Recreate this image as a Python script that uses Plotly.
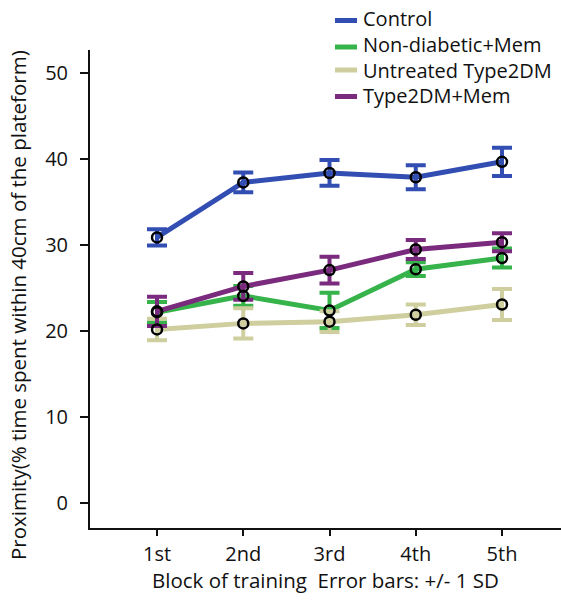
import plotly.graph_objects as go

blocks = ["1st", "2nd", "3rd", "4th", "5th"]

control = [30.9, 37.3, 38.4, 37.9, 39.7]
control_sd = [0.95, 1.15, 1.5, 1.4, 1.65]

nondiab_mem = [22.2, 24.1, 22.4, 27.2, 28.5]
nondiab_mem_sd = [1.2, 1.15, 2.05, 0.8, 1.1]

untreated = [20.2, 20.9, 21.1, 21.9, 23.1]
untreated_sd = [1.25, 1.75, 1.2, 1.2, 1.8]

t2dm_mem = [22.3, 25.2, 27.1, 29.5, 30.35]
t2dm_mem_sd = [1.7, 1.55, 1.55, 1.1, 1.05]

series = [
    ("Control", control, control_sd, "#334EB2"),
    ("Non-diabetic+Mem", nondiab_mem, nondiab_mem_sd, "#36B34A"),
    ("Untreated Type2DM", untreated, untreated_sd, "#CFCE9E"),
    ("Type2DM+Mem", t2dm_mem, t2dm_mem_sd, "#7A2B7E"),
]

FONT = "Open Sans, Noto Sans, sans-serif"

W, H = 561, 600
ML, MR, MT, MB = 90, 0, 50, 72
PW, PH = W - ML - MR, H - MT - MB


def px_x(p):
    return (p - ML) / PW


def px_y(p):
    return (H - MB - p) / PH


fig = go.Figure()
for name, vals, sd, col in series:
    fig.add_trace(go.Scatter(
        x=blocks, y=vals, name=name, mode="lines", showlegend=False,
        line=dict(color=col, width=5),
        error_y=dict(type="data", array=sd, visible=True, color=col,
                     thickness=4, width=10),
    ))
for name, vals, sd, col in series:
    fig.add_trace(go.Scatter(
        x=blocks, y=vals, mode="markers", showlegend=False, hoverinfo="skip",
        marker=dict(symbol="circle-open", size=10, color="black",
                    line=dict(color="black", width=2.5)),
    ))

# manual legend (layout decoration)
legend_line_y = [20.5, 47, 70, 96.5]
legend_text_y = [18.5, 45, 71, 96]
shapes = []
annotations = []
for (name, vals, sd, col), ly, ty in zip(series, legend_line_y, legend_text_y):
    shapes.append(dict(type="line", xref="paper", yref="paper",
                       x0=px_x(335), x1=px_x(357), y0=px_y(ly), y1=px_y(ly),
                       line=dict(color=col, width=5)))
    annotations.append(dict(text=name, xref="paper", yref="paper",
                            x=px_x(361), y=px_y(ty), xanchor="left",
                            yanchor="middle", showarrow=False,
                            font=dict(size=20, family=FONT, color="#111")))

annotations.append(dict(
    text="Proximity(% time spent within 40cm of the plateform)",
    xref="paper", yref="paper", x=px_x(18), y=px_y(305),
    xanchor="center", yanchor="middle", textangle=-90,
    showarrow=False, font=dict(size=20.5, family=FONT, color="#111"),
))
annotations.append(dict(
    text="Block of training  Error bars: +/- 1 SD",
    xref="paper", yref="paper", x=px_x(325), y=px_y(580),
    xanchor="center", yanchor="middle",
    showarrow=False, font=dict(size=20.5, family=FONT, color="#111"),
))

fig.update_layout(
    width=W, height=H,
    margin=dict(l=ML, r=MR, t=MT, b=MB),
    plot_bgcolor="white", paper_bgcolor="white",
    font=dict(family=FONT, size=20, color="#111"),
    showlegend=False,
    xaxis=dict(
        type="category", range=[-0.777, 4.684],
        showline=True, linecolor="#111", linewidth=2,
        ticks="outside", ticklen=6, tickwidth=2, tickcolor="#111",
        showgrid=False, zeroline=False,
        tickfont=dict(size=20), ticklabelstandoff=1,
    ),
    yaxis=dict(
        range=[-2.91, 52.71],
        tickvals=[0, 10, 20, 30, 40, 50],
        showline=True, linecolor="#111", linewidth=2,
        ticks="outside", ticklen=8, tickwidth=2, tickcolor="#111",
        showgrid=False, zeroline=False,
        tickfont=dict(size=20), ticklabelstandoff=8,
    ),
    shapes=shapes,
    annotations=annotations,
)

fig.write_html(
    "out.html",
    config={"displayModeBar": False},
    post_script="document.body.style.margin='0';"
                "document.body.style.overflow='hidden';"
                "document.documentElement.style.overflow='hidden';",
)
